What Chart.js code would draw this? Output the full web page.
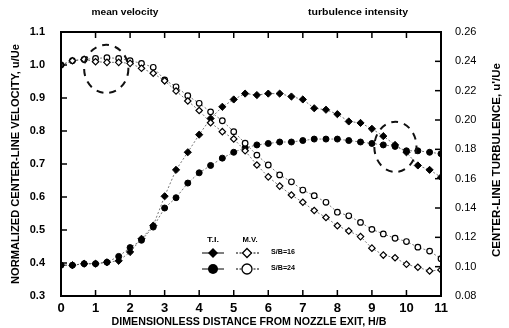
<!DOCTYPE html>
<html>
<head>
<meta charset="utf-8">
<script src="https://cdn.jsdelivr.net/npm/chart.js@4.4.1/dist/chart.umd.min.js"></script>
<style>
html,body{margin:0;padding:0;background:#fff;}
canvas{display:block;}
</style>
</head>
<body>
<canvas id="c" width="509" height="328"></canvas>
<script>
// ---- data ----
const xPositions = [0,0.33,0.67,1,1.33,1.67,2,2.33,2.67,3,3.33,3.67,4,4.33,4.67,5,5.33,5.67,6,6.33,6.67,7,7.33,7.67,8,8.33,8.67,9,9.33,9.67,10,10.33,10.67,11];
const mvSB16 = [1.0,1.013,1.017,1.01,1.008,1.008,1.005,0.99,0.975,0.952,0.921,0.891,0.862,0.825,0.798,0.776,0.740,0.697,0.661,0.633,0.606,0.584,0.559,0.538,0.513,0.497,0.48,0.445,0.424,0.416,0.396,0.387,0.376,0.379];
const mvSB24 = [1.0,1.013,1.017,1.02,1.022,1.02,1.013,1.005,0.993,0.955,0.934,0.907,0.884,0.858,0.831,0.798,0.763,0.727,0.697,0.667,0.646,0.621,0.604,0.584,0.554,0.543,0.523,0.502,0.488,0.475,0.465,0.448,0.436,0.413];
const tiSB16 = [0.101,0.101,0.102,0.102,0.103,0.104,0.110,0.119,0.128,0.148,0.166,0.178,0.190,0.201,0.209,0.214,0.218,0.217,0.218,0.218,0.216,0.214,0.208,0.207,0.204,0.199,0.198,0.194,0.189,0.183,0.178,0.169,0.166,0.161];
const tiSB24 = [0.101,0.101,0.102,0.102,0.103,0.107,0.113,0.118,0.127,0.140,0.147,0.157,0.164,0.169,0.174,0.178,0.181,0.183,0.184,0.185,0.185,0.186,0.187,0.187,0.187,0.186,0.185,0.184,0.183,0.182,0.179,0.179,0.178,0.177];
const xTickValues = [0,11,1];          // min, max, step
const velTicks = [0.3,1.1,0.1];       // min, max, step
const turbTicks = [0.08,0.26,0.02];   // min, max, step
// dashed annotation circles: centre (x, velocity) and half-sizes in data units
const highlightCircles = [
  {x:1.31, v:0.988, rx:0.64, rv:0.073},
  {x:9.68, v:0.752, rx:0.61, rv:0.076}
];
const texts = {
  left:'mean velocity',
  right:'turbulence intensity',
  xTitle:'DIMENSIONLESS DISTANCE FROM NOZZLE EXIT, H/B',
  yTitle:'NORMALIZED CENTER-LINE VELOCITY, u/Ue',
  y1Title:"CENTER-LINE TURBULENCE, u'/Ue",
  legTI:'T.I.', legMV:'M.V.', sb16:'S/B=16', sb24:'S/B=24'
};

const pts = arr => arr.map((v,i)=>({x:xPositions[i], y:v}));
const FONT = "'Liberation Sans', Arial, sans-serif";
const lineStyle = {borderColor:'#555', borderWidth:0.8, borderDash:[2,2], showLine:true, fill:false, tension:0};

function fitText(ctx, text, x, y, w, size, rot){
  ctx.save();
  ctx.font = 'bold ' + size + 'px ' + FONT;
  const m = ctx.measureText(text).width;
  ctx.translate(x, y);
  if (rot) ctx.rotate(rot);
  ctx.scale(w / m, 1);
  ctx.textAlign = 'center';
  ctx.textBaseline = 'middle';
  ctx.fillStyle = '#000';
  ctx.fillText(text, 0, 0);
  ctx.restore();
}

const decor = {
  id:'decor',
  afterDatasetsDraw(chart){
    const {ctx, scales} = chart;
    ctx.save();
    ctx.strokeStyle = '#111';
    ctx.lineWidth = 2;
    ctx.setLineDash([7,6]);
    highlightCircles.forEach(c=>{
      const cx = scales.x.getPixelForValue(c.x);
      const cy = scales.y.getPixelForValue(c.v);
      const rx = Math.abs(scales.x.getPixelForValue(c.x + c.rx) - cx);
      const ry = Math.abs(scales.y.getPixelForValue(c.v + c.rv) - cy);
      ctx.beginPath();
      ctx.ellipse(cx, cy, rx, ry, 0, 0, Math.PI*2);
      ctx.stroke();
    });
    ctx.restore();
  },
  afterDraw(chart){
    const {ctx, chartArea:a, scales} = chart;
    ctx.save();
    ctx.strokeStyle = '#000';
    ctx.lineWidth = 2;
    ctx.setLineDash([]);
    ctx.strokeRect(a.left, a.top, a.right - a.left, a.bottom - a.top);
    ctx.lineWidth = 1.5;
    const seg = (x1,y1,x2,y2)=>{ctx.beginPath();ctx.moveTo(x1,y1);ctx.lineTo(x2,y2);ctx.stroke();};
    scales.x.ticks.forEach(t=>{
      const p = scales.x.getPixelForValue(t.value);
      seg(p, a.bottom, p, a.bottom - 6);
      seg(p, a.top, p, a.top + 6);
    });
    scales.y.ticks.forEach(t=>{
      const p = scales.y.getPixelForValue(t.value);
      seg(a.left, p, a.left + 6, p);
    });
    scales.y1.ticks.forEach(t=>{
      const p = scales.y1.getPixelForValue(t.value);
      seg(a.right, p, a.right - 6, p);
    });

    // titles
    fitText(ctx, texts.left, 125, 13, 67, 9, 0);
    fitText(ctx, texts.right, 358, 13, 100, 9, 0);
    fitText(ctx, texts.xTitle, 249, 322, 275, 10, 0);
    fitText(ctx, texts.yTitle, 16, 164, 240, 10, -Math.PI/2);
    fitText(ctx, texts.y1Title, 497, 160, 194, 10, -Math.PI/2);

    // legend
    const r1 = 253, r2 = 269, cTI = 213, cMV = 247;
    fitText(ctx, texts.legTI, cTI, 240, 12, 8, 0);
    fitText(ctx, texts.legMV, cMV + 3, 240, 15, 8, 0);
    ctx.strokeStyle = '#000';
    ctx.lineWidth = 1;
    seg(cTI - 11, r1, cTI + 11, r1);
    seg(cTI - 11, r2, cTI + 11, r2);
    ctx.setLineDash([2,1.5]);
    seg(cMV - 11, r1, cMV + 12, r1);
    seg(cMV - 11, r2, cMV + 12, r2);
    ctx.setLineDash([]);
    ctx.fillStyle = '#000';
    ctx.beginPath(); ctx.moveTo(cTI, r1-5); ctx.lineTo(cTI+5, r1); ctx.lineTo(cTI, r1+5); ctx.lineTo(cTI-5, r1); ctx.closePath(); ctx.fill();
    ctx.beginPath(); ctx.arc(cTI, r2, 5, 0, Math.PI*2); ctx.fill();
    ctx.fillStyle = '#fff';
    ctx.lineWidth = 1.3;
    ctx.beginPath(); ctx.moveTo(cMV, r1-4.5); ctx.lineTo(cMV+4.5, r1); ctx.lineTo(cMV, r1+4.5); ctx.lineTo(cMV-4.5, r1); ctx.closePath(); ctx.fill(); ctx.stroke();
    ctx.beginPath(); ctx.arc(cMV, r2, 5, 0, Math.PI*2); ctx.fill(); ctx.stroke();
    fitText(ctx, texts.sb16, 283, r1 - 1, 24, 8, 0);
    fitText(ctx, texts.sb24, 283, r2 - 1, 24, 8, 0);
    ctx.restore();
  }
};

const tickFont = {family: FONT, size: 11, weight: 'bold'};

new Chart(document.getElementById('c'), {
  type: 'scatter',
  data: {
    datasets: [
      Object.assign({label:'M.V. S/B=16', data: pts(mvSB16), yAxisID:'y',
        pointStyle:'rectRot', pointRadius:3.2, pointBackgroundColor:'#fff', pointBorderColor:'#000', pointBorderWidth:1.2}, lineStyle),
      Object.assign({label:'M.V. S/B=24', data: pts(mvSB24), yAxisID:'y',
        pointStyle:'circle', pointRadius:2.8, pointBackgroundColor:'#fff', pointBorderColor:'#000', pointBorderWidth:1.2}, lineStyle),
      Object.assign({label:'T.I. S/B=16', data: pts(tiSB16), yAxisID:'y1',
        pointStyle:'rectRot', pointRadius:3.6, pointBackgroundColor:'#000', pointBorderColor:'#000', pointBorderWidth:1}, lineStyle),
      Object.assign({label:'T.I. S/B=24', data: pts(tiSB24), yAxisID:'y1',
        pointStyle:'circle', pointRadius:3, pointBackgroundColor:'#000', pointBorderColor:'#000', pointBorderWidth:1}, lineStyle)
    ]
  },
  options: {
    responsive: false,
    animation: false,
    devicePixelRatio: 1,
    layout: {padding: {top: 32, left: 0, right: 0, bottom: 0}},
    plugins: {legend: {display: false}, tooltip: {enabled: false}},
    scales: {
      x: {
        type: 'linear', position: 'bottom', min: xTickValues[0], max: xTickValues[1],
        ticks: {stepSize: xTickValues[2], color: '#000', font: {family: FONT, size: 13, weight: 'bold'}, padding: -3, maxRotation: 0},
        grid: {display: false}, border: {display: false},
        afterFit(s){ s.height = 32; }
      },
      y: {
        position: 'left', min: velTicks[0], max: velTicks[1],
        ticks: {stepSize: velTicks[2], color: '#000', font: tickFont, padding: 8, callback: v => Number(v).toFixed(1)},
        grid: {display: false}, border: {display: false},
        afterFit(s){ s.width = 61; }
      },
      y1: {
        position: 'right', min: turbTicks[0], max: turbTicks[1],
        ticks: {stepSize: turbTicks[2], color: '#000', font: {family: FONT, size: 11}, padding: 6, callback: v => Number(v).toFixed(2)},
        grid: {display: false}, border: {display: false},
        afterFit(s){ s.width = 68; }
      }
    }
  },
  plugins: [decor]
});
</script>
</body>
</html>
